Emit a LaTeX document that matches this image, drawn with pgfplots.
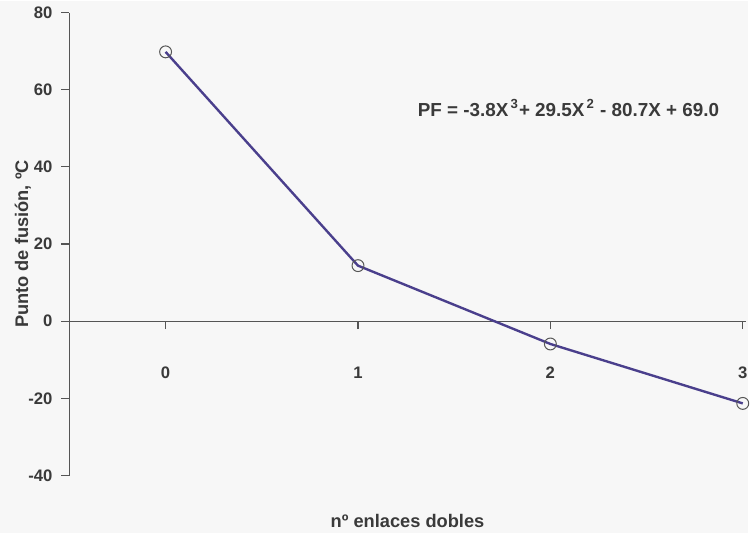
\documentclass[border=0pt]{standalone}
\usepackage{pgfplots}
\pgfplotsset{compat=1.18}
\usepackage{fontspec}
\setmainfont{Liberation Sans}
\usetikzlibrary{backgrounds}
\definecolor{txt}{HTML}{3A3A3A}
\definecolor{axc}{HTML}{555555}
\definecolor{linec}{HTML}{4A3F8C}
\definecolor{bg}{HTML}{F7F7F7}
\begin{document}
\begin{tikzpicture}
\begin{axis}[
  name=ax,
  scale only axis,
  width=341pt, height=233.5pt,
  xmin=-0.5, xmax=3.015,
  ymin=-40, ymax=80,
  axis y line=left,
  axis x line=middle,
  axis line style={axc, line width=0.6pt, -},
  xtick={0,1,2,3},
  ytick={-40,-20,0,20,40,60,80},
  tick align=outside,
  tick style={axc, line width=0.6pt},
  major tick length=4pt,
  font=\fontsize{8.4}{10}\selectfont\bfseries,
  ticklabel style={txt, font=\fontsize{8.4}{10}\selectfont\bfseries},
  /pgf/number format/assume math mode=true,
  xticklabel style={yshift=-22pt, anchor=center},
  yticklabel style={xshift=-1pt},
  xlabel={nº enlaces dobles},
  ylabel={Punto de fusión, ºC},
  xlabel style={at={(axis description cs:0.5,0)}, anchor=center, yshift=-23pt, txt, font=\fontsize{9.2}{10}\selectfont\bfseries},
  ylabel style={at={(axis description cs:-0.069,0.5)}, anchor=center, txt, font=\fontsize{9.2}{10}\selectfont\bfseries},
  clip=false,
]
\addplot[color=linec, line width=1.2pt, mark=o, mark size=3pt,
  mark options={draw=axc, line width=0.5pt, fill=none}]
  coordinates {(0,69.8) (1,14.4) (2,-5.9) (3,-21.3)};
\node[anchor=west, txt, font=\fontsize{9.5}{11}\selectfont\bfseries] at (axis cs:1.275,55.3)
  {PF = -3.8X\textsuperscript{\,3}+ 29.5X\textsuperscript{\,2} - 80.7X + 69.0};
\end{axis}
\begin{scope}[on background layer]
\fill[bg] ([shift={(-35pt,-29pt)}]ax.south west) rectangle ([shift={(1pt,6pt)}]ax.north east);
\end{scope}
\path ([shift={(-35pt,-29pt)}]ax.south west) ([shift={(1pt,6pt)}]ax.north east);
\end{tikzpicture}
\end{document}
